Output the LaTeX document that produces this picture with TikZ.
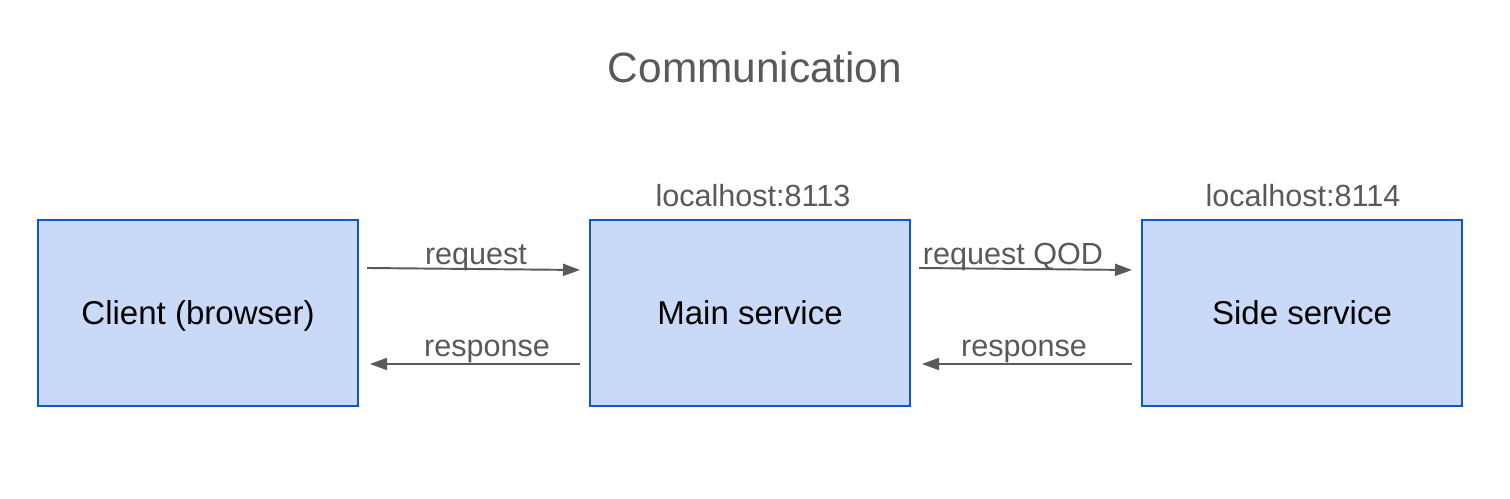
\documentclass[tikz,border=0pt]{standalone}
\usepackage{fontspec}
\setmainfont{Liberation Sans}
\usetikzlibrary{arrows.meta,positioning}
\definecolor{boxfill}{HTML}{C9DAF8}
\definecolor{boxline}{HTML}{1155CC}
\definecolor{txtgray}{HTML}{595959}

\begin{document}
\begin{tikzpicture}[>={Triangle[length=0.34cm, width=0.24cm]},
	box/.style={draw=boxline, fill=boxfill, line width=1.1pt, minimum width=6.4cm, minimum height=3.72cm, text depth=0pt, font=\fontsize{18.8}{22}\selectfont},
	lbl/.style={txtgray, anchor=base, inner sep=0pt, font=\fontsize{17.4}{20}\selectfont},
	msg/.style={->, txtgray, line width=1.1pt}]
	\useasboundingbox (0,0) rectangle (30.2,9.96);
	\node[txtgray, font=\fontsize{24.1}{28}\selectfont] (title) at (15.1,8.62) {Communication};
	% the three services
	\node[box] (client) at (3.96,3.70) {Client (browser)};
	\node[box] (main) at (15.0,3.70) {Main service};
	\node[box] (side) at (26.04,3.70) {Side service};
	\node[lbl] (port1) at (15.06,5.82) {localhost:8113};
	\node[lbl] (port2) at (26.06,5.82) {localhost:8114};
	% messages
	\coordinate (rqA) at (7.34,4.60); \coordinate (rqB) at (11.6,4.56);
	\coordinate (rsA) at (11.6,2.68); \coordinate (rsB) at (7.40,2.68);
	\coordinate (qdA) at (18.38,4.60); \coordinate (qdB) at (22.64,4.56);
	\coordinate (sdA) at (22.64,2.68); \coordinate (sdB) at (18.44,2.68);
	\draw[msg] (rqA) -- (rqB);
	\draw[msg] (rsA) -- (rsB);
	\draw[msg] (qdA) -- (qdB);
	\draw[msg] (sdA) -- (sdB);
	\node[lbl] (req) at (9.52,4.66) {request};
	\node[lbl] (resp) at (9.74,2.82) {response};
	\node[lbl] (reqqod) at (20.26,4.66) {request QOD};
	\node[lbl] (resp2) at (20.48,2.82) {response};
\end{tikzpicture}
\end{document}
